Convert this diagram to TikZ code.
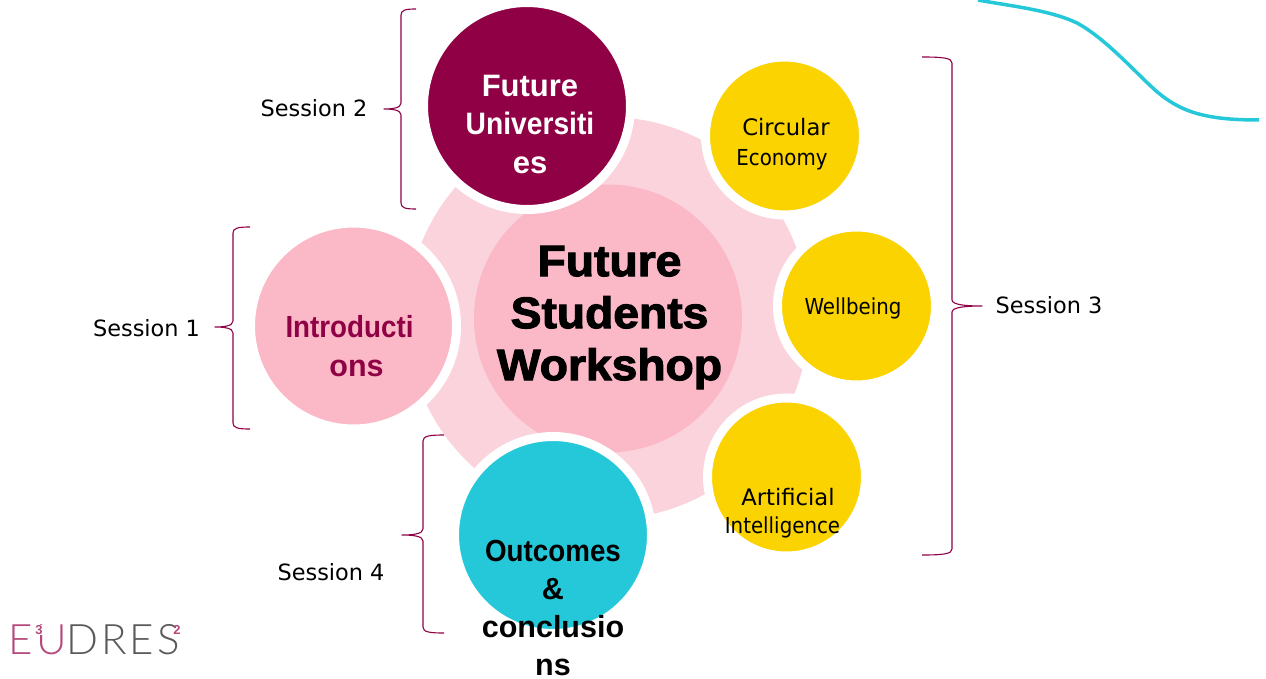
\documentclass[tikz,border=0pt]{standalone}
\usepackage{fontspec}
\setmainfont{DejaVu Sans}
\newfontfamily\narrowf[FakeStretch=0.9]{DejaVu Sans}
\newfontfamily\arialf{Liberation Sans}
\newfontfamily\arialn[FakeStretch=0.91]{Liberation Sans}
\newfontfamily\heavyf[FakeBold=2.5,FakeStretch=1.05]{Liberation Sans Bold}
\newfontfamily\logof[LetterSpace=7]{Lato Light}
\definecolor{maroon}{HTML}{8F0045}
\definecolor{pinkmid}{HTML}{FBB8C6}
\definecolor{pinklight}{HTML}{FBD3DC}
\definecolor{sunny}{HTML}{FBD300}
\definecolor{teal}{HTML}{25C8D9}
\definecolor{logogrey}{HTML}{5A5A5A}
\definecolor{logopink}{HTML}{B5487A}
\tikzset{
  ball/.style={circle,draw=white,line width=9pt,inner sep=0pt,outer sep=0pt},
  bigtext/.style={align=center,inner sep=0pt,font=\arialn\bfseries\fontsize{31}{38.5}\selectfont},
  midtext/.style={align=center,inner sep=0pt,font=\arialn\bfseries\fontsize{30.5}{38.3}\selectfont},
  sesstext/.style={inner sep=0pt,font=\fontsize{22.4}{26}\selectfont,text=black},
  brace/.style={draw=maroon,line width=1.1pt,line join=round},
  smalltext/.style={inner sep=0pt,font=\narrowf\fontsize{22}{26}\selectfont},
  widetext/.style={inner sep=0pt,font=\fontsize{22.7}{26}\selectfont},
  logodigit/.style={inner sep=0.6pt,font=\arialf\bfseries\fontsize{13}{13}\selectfont,text=logopink},
}
\newcommand{\sessionbrace}[6]{% tipx spinex pointx top mid bottom
  \draw[brace] (#1,#4) .. controls ({.3*#1+.7*#2},#4) and (#2,#4+1) .. (#2,#4+6)
    -- (#2,#5-6) .. controls (#2,#5-1) and ({.5*#2+.5*#3},#5) .. (#3,#5)
    .. controls ({.5*#2+.5*#3},#5) and (#2,#5+1) .. (#2,#5+6)
    -- (#2,#6-6) .. controls (#2,#6-1) and ({.3*#1+.7*#2},#6) .. (#1,#6);}
\begin{document}
\begin{tikzpicture}[x=1pt,y=-1pt]
\useasboundingbox (0,0) rectangle (1266,679);
% gear body and hub
\node[circle,fill=pinklight,minimum size=402pt,inner sep=0pt] (gear) at (608,318) {};
\node[circle,fill=pinkmid,minimum size=268pt,inner sep=0pt] (hub) at (608,318.5) {};
% satellites
\node[ball,fill=maroon,minimum size=207pt] (fu) at (527,106) {};
\node[ball,fill=pinkmid,minimum size=206pt] (intro) at (353.5,326) {};
\node[ball,fill=teal,minimum size=197pt] (out) at (553,535) {};
\node[ball,fill=sunny,minimum size=158pt] (ce) at (784.5,136) {};
\node[ball,fill=sunny,minimum size=158pt] (wb) at (856.5,306) {};
\node[ball,fill=sunny,minimum size=158pt] (ai) at (786.5,477) {};
% texts
\node[align=center,inner sep=0pt,font=\heavyf\fontsize{44}{52}\selectfont] (hubt) at (609.5,317.5) {Future\\Students\\Workshop};
\node[bigtext,text=white] (fut) at (530,124) {{\arialf\bfseries Future}\\Universiti\\{\arialf\bfseries es}};
\node[midtext,text=maroon] (introt) at (349.5,346) {Introducti\\\hspace*{14pt}{\arialf\bfseries ons}};
\node[midtext,text=black] (outt) at (553,608) {Outcomes\\{\arialf\bfseries\&}\\{\arialf\bfseries conclusio}\\{\arialf\bfseries ns}};
\node[widetext] (cet) at (786,127.5) {Circular};
\node[smalltext] (cet2) at (782,159.5) {Economy};
\node[smalltext] (wbt) at (853,308) {Wellbeing};
\node[widetext] (ait) at (788,497) {Artificial};
\node[smalltext] (ait2) at (782.5,527.5) {Intelligence};
% session labels
\node[sesstext] (s1) at (146.5,328) {Session 1};
\node[sesstext] (s2) at (314,108) {Session 2};
\node[sesstext] (s3) at (1049,305) {Session 3};
\node[sesstext] (s4) at (331,572) {Session 4};
% braces
\sessionbrace{922}{952}{982}{57}{306}{555}
\sessionbrace{416}{401}{384}{9}{109}{209}
\sessionbrace{250}{233}{215}{227}{327}{429}
\sessionbrace{444}{423}{402}{435}{535}{633}
% teal curve
\draw[teal,line width=3.5pt] (978,0) .. controls (1010,6) and (1050,10) .. (1077,23)
  .. controls (1105,38) and (1135,72) .. (1155,90)
  .. controls (1180,112) and (1205,120) .. (1259,120);
% logo
\node[inner sep=0pt,anchor=base west,font=\logof\fontsize{42}{42}\selectfont] (logo) at (8.5,654)
  {\textcolor{logopink}{EU}\textcolor{logogrey}{DRES}};
\node[logodigit,fill=white] (l3) at (39,630) {3};
\node[logodigit] (l2) at (177,630) {2};
\end{tikzpicture}
\end{document}
